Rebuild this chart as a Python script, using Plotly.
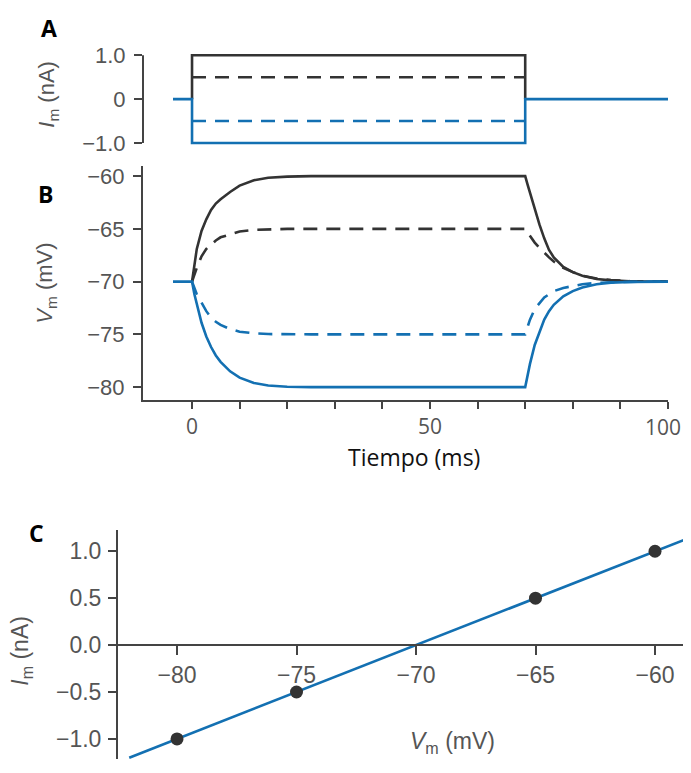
import plotly.graph_objects as go

# ---------------- data ----------------
# Panel A: current steps (nA)
t_start, t_on, t_off, t_end = -4, 0, 70, 100
i_steps = [1.0, 0.5, -0.5, -1.0]

# Panel B: membrane potential responses (mV)
t_ms = [-4, 0, 0.5, 1, 2, 3, 4, 5, 6, 8, 10, 13, 16, 20, 25,
        70, 70.5, 71, 72, 73, 74, 75, 76, 78, 80, 82, 85, 88, 92, 100]
v_plus1 = [-70, -70, -68.3, -66.9, -65.2, -64.1, -63.2, -62.6, -62.2, -61.5, -60.9, -60.4, -60.15, -60.05, -60,
           -60, -60.8, -61.6, -63.1, -64.6, -65.9, -67.0, -67.7, -68.6, -69.1, -69.45, -69.75, -69.88, -69.96, -70]
v_plus05 = [-70, -70, -69.3, -68.7, -67.6, -66.9, -66.5, -66.1, -65.8, -65.5, -65.25, -65.1, -65.03, -65, -65,
            -65, -65.35, -65.7, -66.3, -66.8, -67.3, -67.7, -68.1, -68.7, -69.1, -69.45, -69.7, -69.85, -69.95, -70]
v_minus05 = [-70, -70, -70.6, -71.2, -72.0, -72.8, -73.4, -73.8, -74.1, -74.5, -74.75, -74.9, -74.97, -75, -75,
             -75, -74.2, -73.6, -72.6, -72.0, -71.5, -71.2, -70.9, -70.6, -70.4, -70.25, -70.12, -70.05, -70.02, -70]
v_minus1 = [-70, -70, -71.2, -72.2, -73.9, -75.2, -76.2, -77.0, -77.6, -78.5, -79.1, -79.6, -79.85, -79.97, -80,
            -80, -78.9, -77.8, -76.0, -74.7, -73.6, -72.8, -72.2, -71.4, -70.9, -70.55, -70.25, -70.1, -70.03, -70]

# Panel C: I-V relation
vm_points = [-80, -75, -65, -60]
im_points = [-1.0, -0.5, 0.5, 1.0]
vm_fit = [-82, -58]
im_fit = [-1.2, 1.2]

# tick labels
a_yticks = [-1, 0, 1]
a_yticktext = ["\u22121.0", "0", "1.0"]
b_yticks = [-80, -75, -70, -65, -60]
b_yticktext = ["\u221280", "\u221275", "\u221270", "\u221265", "\u221260"]
b_xticks = [0, 50]
b_xticktext = ["0", "50"]
b_minor_ticks = [10, 20, 30, 40, 60, 70, 80, 90, 100]
b_last_label = "100"   # drawn separately so it stays inside the page
c_xticks = [-80, -75, -70, -65, -60]
c_xticktext = ["\u221280", "\u221275", "\u221270", "\u221265", "\u221260"]
c_yticks = [-1.0, -0.5, 0.0, 0.5, 1.0]
c_yticktext = ["\u22121.0", "\u22120.5", "0.0", "0.5", "1.0"]

# ---------------- style ----------------
# The page body keeps the browser's default 8px margin, so the figure is
# sized to fill exactly the 691x773 window inside it.
OFF = 8
W, H = 691 - 2 * OFF, 773 - 2 * OFF
BLACK = "#333333"
BLUE = "#1370b2"
AXC = "#444444"
TXT = "#555555"
LW = 2.6
DASH = "14px,9px"


def px(x):
    return (x - OFF) / W


def py(y):
    return 1 - (y - OFF) / H


fig = go.Figure()

# ---- Panel A ----
fig.add_trace(go.Scatter(x=[t_on, t_on, t_off, t_off], y=[0, i_steps[0], i_steps[0], 0],
                         mode="lines", line=dict(color=BLACK, width=LW), xaxis="x", yaxis="y"))
fig.add_trace(go.Scatter(x=[t_on, t_off], y=[i_steps[1], i_steps[1]],
                         mode="lines", line=dict(color=BLACK, width=LW, dash=DASH), xaxis="x", yaxis="y"))
fig.add_trace(go.Scatter(x=[t_on, t_off], y=[i_steps[2], i_steps[2]],
                         mode="lines", line=dict(color=BLUE, width=LW, dash=DASH), xaxis="x", yaxis="y"))
fig.add_trace(go.Scatter(x=[t_start, t_on, t_on, t_off, t_off, t_end],
                         y=[0, 0, i_steps[3], i_steps[3], 0, 0],
                         mode="lines", line=dict(color=BLUE, width=LW), xaxis="x", yaxis="y"))

# ---- Panel B ----
fig.add_trace(go.Scatter(x=t_ms[1:], y=v_plus1[1:], mode="lines",
                         line=dict(color=BLACK, width=LW), xaxis="x2", yaxis="y2"))
fig.add_trace(go.Scatter(x=t_ms[1:], y=v_plus05[1:], mode="lines",
                         line=dict(color=BLACK, width=LW, dash=DASH), xaxis="x2", yaxis="y2"))
fig.add_trace(go.Scatter(x=t_ms[1:], y=v_minus05[1:], mode="lines",
                         line=dict(color=BLUE, width=LW, dash=DASH), xaxis="x2", yaxis="y2"))
fig.add_trace(go.Scatter(x=t_ms, y=v_minus1, mode="lines",
                         line=dict(color=BLUE, width=LW), xaxis="x2", yaxis="y2"))

# ---- Panel C ----
fig.add_trace(go.Scatter(x=vm_fit, y=im_fit, mode="lines",
                         line=dict(color=BLUE, width=LW), xaxis="x3", yaxis="y3"))
fig.add_trace(go.Scatter(x=vm_points, y=im_points, mode="markers",
                         marker=dict(color=BLACK, size=13), xaxis="x3", yaxis="y3"))

tickfont_ab = dict(family="Liberation Sans, Arial, sans-serif", size=22, color=TXT)
tickfont_bx = dict(family="Open Sans, sans-serif", size=21, color=TXT)
tickfont_c = dict(family="Liberation Sans, Arial, sans-serif", size=23, color=TXT)

common = dict(showgrid=False, zeroline=False, ticks="outside", tickcolor=AXC,
              tickwidth=2, linecolor=AXC, linewidth=2)
common_noline = dict(showgrid=False, zeroline=False, ticks="outside", tickcolor=AXC, tickwidth=2)

# C x-range: -80 at pixel 177, -60 at 655 (23.9 px per mV); right edge of figure at 683
c_right = -60 + (683 - 655) / 23.9
c_bottom = -1.0 - (765 - 744.6) / 95.3

fig.update_layout(
    width=W, height=H, autosize=False,
    margin=dict(l=0, r=0, t=0, b=0, pad=0),
    paper_bgcolor="white", plot_bgcolor="white",
    showlegend=False,
    xaxis=dict(domain=[px(143), px(668)], range=[-10.3, 100], visible=False, anchor="y"),
    yaxis=dict(domain=[py(145.7), py(43.3)], range=[-1.15, 1.15], anchor="x",
               showline=False, tickmode="array", tickvals=a_yticks, ticktext=a_yticktext,
               ticklen=8, ticklabelstandoff=4, tickfont=tickfont_ab, **common_noline),
    xaxis2=dict(domain=[px(143), px(668)], range=[-10.3, 100], anchor="y2", showline=True,
                tickmode="array", tickvals=b_xticks, ticktext=b_xticktext, ticklen=7,
                tickfont=tickfont_bx,
                minor=dict(tickmode="array", tickvals=b_minor_ticks, ticks="outside", ticklen=7,
                           tickwidth=2, tickcolor=AXC, showgrid=False),
                **common),
    yaxis2=dict(domain=[py(400), py(162)], range=[-81.2, -59], anchor="x2", showline=True,
                tickmode="array", tickvals=b_yticks, ticktext=b_yticktext, ticklen=8,
                ticklabelstandoff=4, tickfont=tickfont_ab, **common),
    xaxis3=dict(domain=[px(118), 1], range=[-82.47, c_right], anchor="free", position=py(649.3),
                showline=True, tickmode="array", tickvals=c_xticks, ticktext=c_xticktext,
                ticklen=9, tickfont=tickfont_c, **common),
    yaxis3=dict(domain=[0, py(532)], range=[c_bottom, 1.23], anchor="x3", showline=True,
                tickmode="array", tickvals=c_yticks, ticktext=c_yticktext, ticklen=8,
                ticklabelstandoff=2, tickfont=tickfont_c, **common),
)

# spine for panel A (only between -1 and 1)
fig.add_shape(type="line", xref="x domain", yref="y", x0=0, x1=0, y0=-1, y1=1,
              line=dict(color=AXC, width=2))

# last x tick label of panel B, kept right-aligned to the page edge
fig.add_annotation(text=b_last_label, xref="paper", yref="paper", x=1.0, y=py(428),
                   showarrow=False, font=tickfont_bx, xanchor="right", yanchor="middle")

ann_font = dict(family="Liberation Sans, Arial, sans-serif", size=22, color=TXT)
letter_font = dict(family="Open Sans, sans-serif", size=23, color="black")
annotations = [
    dict(text="<b>A</b>", x=px(49), y=py(22)),
    dict(text="<b>B</b>", x=px(45), y=py(191)),
    dict(text="<b>C</b>", x=px(37), y=py(535)),
]
for a in annotations:
    fig.add_annotation(xref="paper", yref="paper", showarrow=False, font=letter_font,
                       xanchor="center", yanchor="middle", **a)

fig.add_annotation(text="<i>I</i><sub>m</sub> (nA)", xref="paper", yref="paper", x=px(48), y=py(90),
                   textangle=-90, showarrow=False, font=ann_font, xanchor="center", yanchor="middle")
fig.add_annotation(text="<i>V</i><sub>m</sub> (mV)", xref="paper", yref="paper", x=px(46), y=py(282),
                   textangle=-90, showarrow=False, font=ann_font, xanchor="center", yanchor="middle")
fig.add_annotation(text="<i>I</i><sub>m</sub> (nA)", xref="paper", yref="paper", x=px(22), y=py(655),
                   textangle=-90, showarrow=False, font=dict(ann_font, size=23), xanchor="center", yanchor="middle")
fig.add_annotation(text="Tiempo (ms)", xref="paper", yref="paper", x=px(414), y=py(458),
                   showarrow=False, font=dict(family="Open Sans, sans-serif", size=23, color="#111111"),
                   xanchor="center", yanchor="middle")
fig.add_annotation(text="<i>V</i><sub>m</sub> (mV)", xref="paper", yref="paper", x=px(452), y=py(748),
                   showarrow=False, font=dict(ann_font, size=23), xanchor="center", yanchor="middle")

fig.write_html("out.html", config={"displayModeBar": False})
